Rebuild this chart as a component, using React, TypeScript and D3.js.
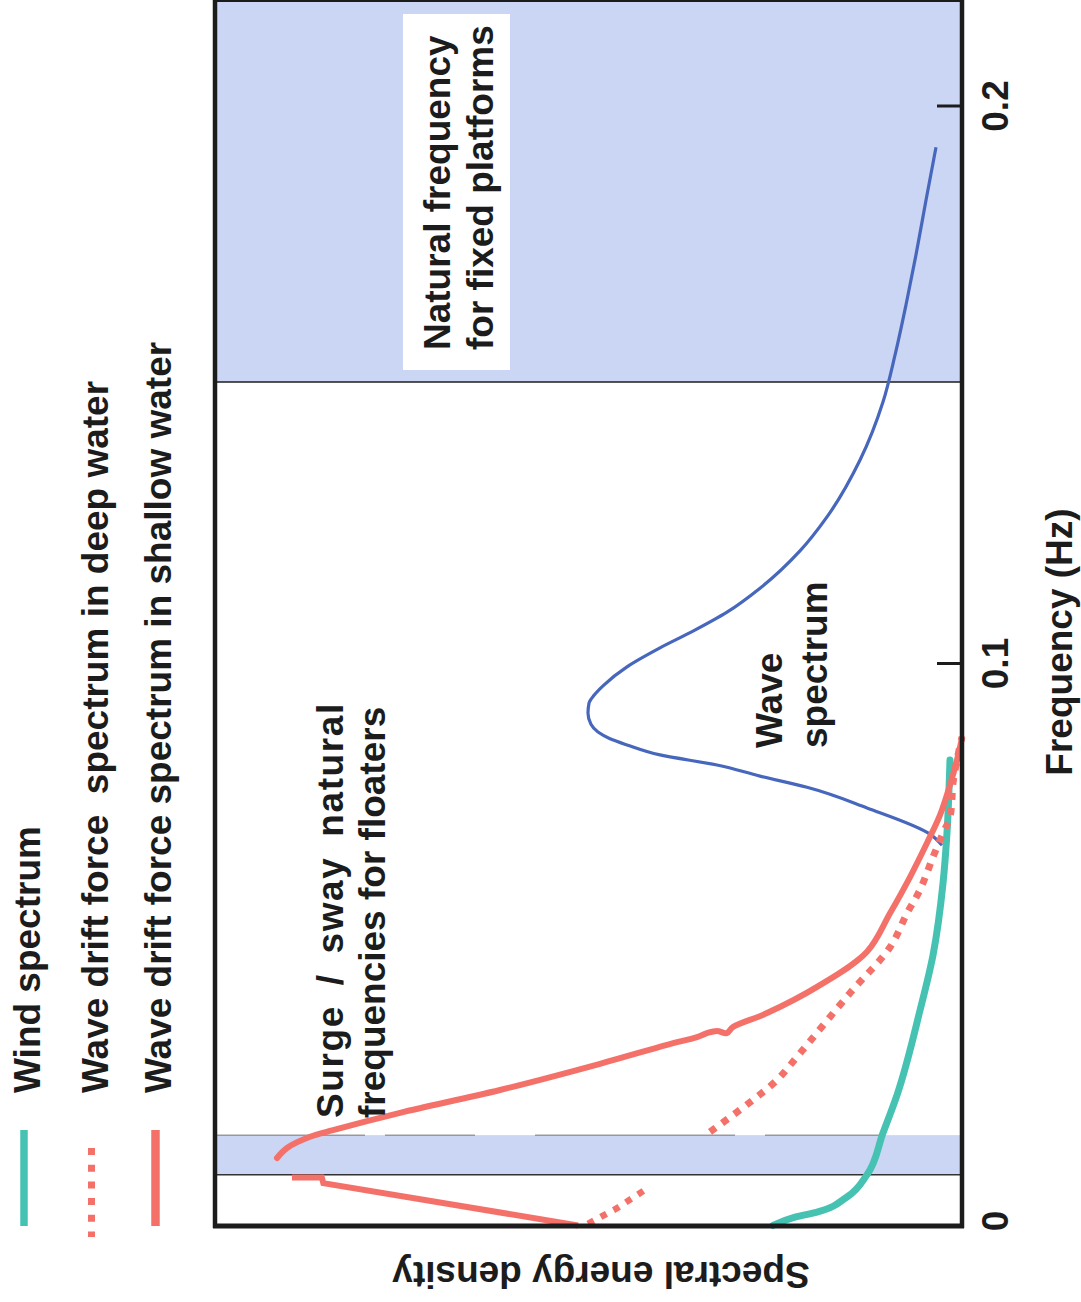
import React from "react";
import * as d3 from "d3";

// ---------- data (frequency in Hz, spectral density in relative units 0..1) ----------
const waveFreq = [0.0674, 0.0694, 0.0741, 0.0778, 0.0798, 0.0818, 0.0836, 0.0854, 0.0865, 0.0877, 0.0891, 0.0911, 0.0929, 0.0943, 0.096, 0.0994, 0.1028, 0.1058, 0.1092, 0.1135, 0.1202, 0.1263, 0.1365, 0.1469, 0.1553, 0.1643, 0.1733, 0.1831, 0.1926];
const waveDensity = [0.0268, 0.0428, 0.1272, 0.2075, 0.2704, 0.328, 0.4043, 0.4485, 0.4712, 0.4873, 0.4967, 0.5007, 0.4993, 0.4926, 0.4806, 0.4485, 0.4043, 0.3601, 0.3146, 0.2704, 0.2169, 0.1807, 0.1365, 0.1058, 0.0897, 0.075, 0.0616, 0.0482, 0.0348];

const windFreq = [-0.0008, 0.0007, 0.0016, 0.0043, 0.0083, 0.0158, 0.0226, 0.0378, 0.0477, 0.0606, 0.0696, 0.0827];
const windDensity = [0.253, 0.2236, 0.1941, 0.154, 0.1272, 0.1058, 0.087, 0.0562, 0.0388, 0.0254, 0.0201, 0.0161];

const shallowLowFreq = [-0.0008, 0.0068, 0.0078, 0.0078];
const shallowLowDensity = [0.514, 0.855, 0.857, 0.897];
const shallowHighFreq = [0.0113, 0.0131, 0.0151, 0.0163, 0.0194, 0.0235, 0.0282, 0.0316, 0.033, 0.0337, 0.0341, 0.0337, 0.0348, 0.0373, 0.042, 0.0483, 0.0552, 0.0617, 0.0678, 0.0728, 0.0782, 0.0827, 0.0866];
const shallowHighDensity = [0.917, 0.9036, 0.8728, 0.842, 0.7523, 0.6185, 0.4846, 0.3949, 0.3548, 0.3414, 0.328, 0.315, 0.3066, 0.261, 0.1941, 0.1272, 0.0964, 0.0696, 0.0469, 0.0295, 0.0161, 0.0067, 0.0];

const deepLowFreq = [-0.0005, 0.0023, 0.0056];
const deepLowDensity = [0.5007, 0.4618, 0.4244];
const deepHighFreq = [0.016, 0.0213, 0.0253, 0.0301, 0.0409, 0.0491, 0.0552, 0.0594, 0.0653, 0.0696, 0.0725, 0.0786, 0.0827, 0.0868];
const deepHighDensity = [0.3373, 0.2838, 0.2477, 0.2169, 0.1499, 0.0964, 0.0736, 0.0562, 0.0388, 0.0254, 0.0161, 0.012, 0.0067, 0.0];

const platformBand = [0.1505, 0.219];
const surgeBand = [0.0083, 0.0154];

const freqTicks = [0, 0.1, 0.2];
const freqTickLabels = ["0", "0.1", "0.2"];

const legendLabels = [
  "Wind spectrum",
  "Wave drift force  spectrum in deep water",
  "Wave drift force spectrum in shallow water",
];

// ---------- styles ----------
const RED = "#f4716a";
const TEAL = "#46c2b3";
const BLUE = "#4667bc";
const BAND = "#cbd5f4";
const INK = "#1c1c1c";
const FONT = "'Liberation Sans', Arial, Helvetica, sans-serif";

export default function App() {
  const x = d3.scaleLinear().domain([0, 1]).range([962, 215]);
  const y = d3.scaleLinear().domain([0, 0.2]).range([1221, 106]);

  const zip = (f: number[], s: number[]) => f.map((v, i) => [s[i], v] as [number, number]);

  const smooth = d3
    .line<[number, number]>()
    .x((d) => x(d[0]))
    .y((d) => y(d[1]))
    .curve(d3.curveMonotoneY);
  const catmull = d3
    .line<[number, number]>()
    .x((d) => x(d[0]))
    .y((d) => y(d[1]))
    .curve(d3.curveCatmullRom.alpha(0.5));
  const straight = d3
    .line<[number, number]>()
    .x((d) => x(d[0]))
    .y((d) => y(d[1]));

  const xL = x(1);
  const xR = x(0);

  const textStyle: React.CSSProperties = {
    fontFamily: FONT,
    fontWeight: 700,
    fontSize: 37,
    fill: INK,
    whiteSpace: "pre",
  };

  const rot = (bx: number, by: number) => `translate(${bx},${by}) rotate(-90)`;

  return (
    <svg
      width={1081}
      height={1302}
      style={{ position: "absolute", left: 0, top: 0, display: "block", background: "#fff" }}
    >
      <rect x={0} y={0} width={1081} height={1302} fill="#fff" />

      {/* bands */}
      <rect x={xL} y={y(platformBand[1])} width={xR - xL} height={y(platformBand[0]) - y(platformBand[1])} fill={BAND} />
      <line x1={xL} x2={xR} y1={y(platformBand[0])} y2={y(platformBand[0])} stroke={INK} strokeWidth={1.6} />
      <rect x={xL} y={y(surgeBand[1])} width={xR - xL} height={y(surgeBand[0]) - y(surgeBand[1])} fill={BAND} />
      <line x1={xL} x2={xR} y1={y(surgeBand[1])} y2={y(surgeBand[1])} stroke="#666" strokeWidth={0.9} strokeDasharray="150 20 90 60 200 30 120 75" />
      <line x1={xL} x2={xR} y1={y(surgeBand[0])} y2={y(surgeBand[0])} stroke="#333" strokeWidth={1.3} />

      {/* white label box */}
      <rect x={403} y={14} width={107} height={356} fill="#fff" />

      {/* curves */}
      <path d={smooth(zip(waveFreq, waveDensity)) || ""} fill="none" stroke={BLUE} strokeWidth={3.2} />
      <path d={smooth(zip(windFreq, windDensity)) || ""} fill="none" stroke={TEAL} strokeWidth={7} strokeLinecap="round" />
      <path d={straight(zip(deepLowFreq, deepLowDensity)) || ""} fill="none" stroke={RED} strokeWidth={6.5} strokeDasharray="6.5 8" />
      <path d={catmull(zip(deepHighFreq, deepHighDensity)) || ""} fill="none" stroke={RED} strokeWidth={7} strokeDasharray="7 8" />
      <path d={straight(zip(shallowLowFreq, shallowLowDensity)) || ""} fill="none" stroke={RED} strokeWidth={6} />
      <path d={catmull(zip(shallowHighFreq, shallowHighDensity)) || ""} fill="none" stroke={RED} strokeWidth={6} strokeLinecap="round" />

      {/* frame */}
      <line x1={xL} x2={xR} y1={1} y2={1} stroke={INK} strokeWidth={2} />
      <line x1={xL} x2={xL} y1={0} y2={1228} stroke={INK} strokeWidth={4.5} />
      <line x1={xL - 2} x2={xR + 2} y1={1226} y2={1226} stroke={INK} strokeWidth={5} />
      <line x1={xR} x2={xR} y1={0} y2={1228} stroke={INK} strokeWidth={4.5} />

      {/* frequency ticks */}
      {freqTicks.map((t, i) => (
        <g key={t}>
          {t > 0 && <line x1={xR - 25} x2={xR} y1={y(t)} y2={y(t)} stroke={INK} strokeWidth={3} />}
          <text transform={rot(1008, y(t))} textAnchor="middle" style={textStyle}>
            {freqTickLabels[i]}
          </text>
        </g>
      ))}

      {/* axis titles */}
      <text transform={rot(1072, 642)} textAnchor="middle" style={textStyle}>
        Frequency (Hz)
      </text>
      <text transform="translate(601,1262) rotate(180)" textAnchor="middle" style={textStyle}>
        Spectral energy density
      </text>

      {/* annotations */}
      <text transform={rot(450, 350)} textAnchor="start" style={textStyle}>Natural frequency</text>
      <text transform={rot(493, 350)} textAnchor="start" style={textStyle}>for fixed platforms</text>
      <text transform={rot(782, 748)} textAnchor="start" style={textStyle}>Wave</text>
      <text transform={rot(827, 748)} textAnchor="start" style={textStyle}>spectrum</text>
      <text transform={rot(343, 1118)} textAnchor="start" style={{ ...textStyle, wordSpacing: 8, letterSpacing: 1.6 }}>Surge / sway natural</text>
      <text transform={rot(385, 1118)} textAnchor="start" style={textStyle}>frequencies for floaters</text>

      {/* legend */}
      <line x1={24} x2={24} y1={1130} y2={1226} stroke={TEAL} strokeWidth={7.5} />
      <line x1={91.5} x2={91.5} y1={1148} y2={1237} stroke={RED} strokeWidth={7} strokeDasharray="7 9.7" />
      <line x1={155.5} x2={155.5} y1={1130} y2={1226} stroke={RED} strokeWidth={8.5} />
      <text transform={rot(40, 1093)} textAnchor="start" style={textStyle}>{legendLabels[0]}</text>
      <text transform={rot(108, 1093)} textAnchor="start" style={textStyle}>{legendLabels[1]}</text>
      <text transform={rot(171, 1093)} textAnchor="start" style={textStyle}>{legendLabels[2]}</text>
    </svg>
  );
}
